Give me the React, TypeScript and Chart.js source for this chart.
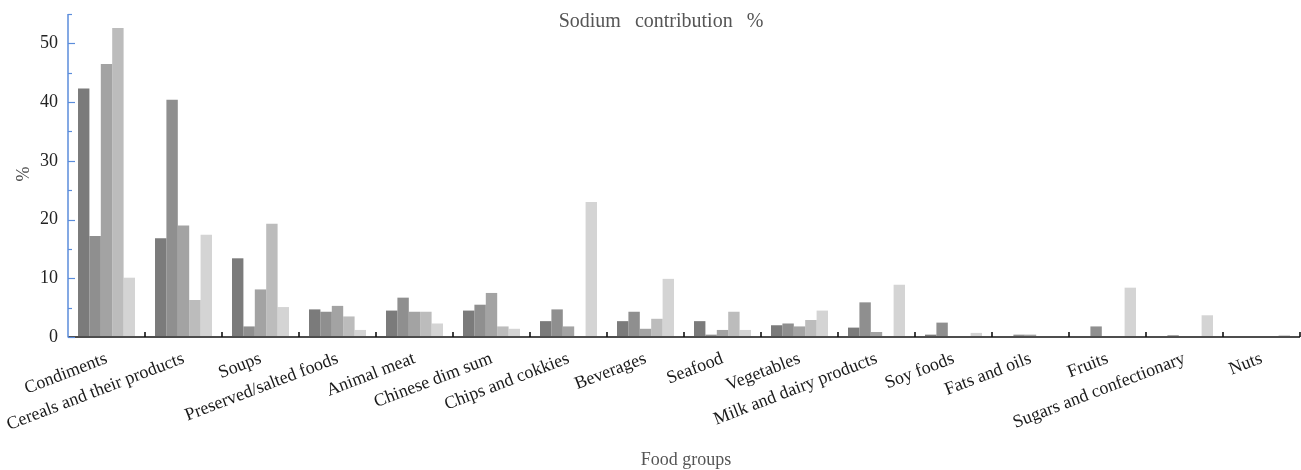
import { useEffect, useRef } from 'react';
import { Chart, registerables } from 'chart.js';

Chart.register(...registerables);

const categories = [
  'Condiments',
  'Cereals and their products',
  'Soups',
  'Preserved/salted foods',
  'Animal meat',
  'Chinese dim sum',
  'Chips and cokkies',
  'Beverages',
  'Seafood',
  'Vegetables',
  'Milk and dairy products',
  'Soy foods',
  'Fats and oils',
  'Fruits',
  'Sugars and confectionary',
  'Nuts',
];

const series1 = [42.3, 16.8, 13.4, 4.7, 4.5, 4.5, 2.7, 2.7, 2.7, 2.0, 1.6, 0.4, 0.15, 0, 0, 0];
const series2 = [17.2, 40.4, 1.8, 4.3, 6.7, 5.5, 4.7, 4.3, 0.4, 2.3, 5.9, 2.45, 0.4, 1.8, 0.3, 0];
const series3 = [46.5, 19.0, 8.1, 5.3, 4.3, 7.5, 1.8, 1.4, 1.2, 1.8, 0.85, 0.1, 0.4, 0, 0, 0];
const series4 = [52.6, 6.3, 19.3, 3.5, 4.3, 1.8, 0, 3.1, 4.3, 2.9, 0, 0, 0.1, 0, 0, 0];
const series5 = [10.1, 17.4, 5.1, 1.2, 2.3, 1.4, 23.0, 9.9, 1.2, 4.5, 8.9, 0.7, 0.1, 8.4, 3.7, 0.35];

const seriesNames = ['Series 1', 'Series 2', 'Series 3', 'Series 4', 'Series 5'];
const seriesColors = ['#7b7b7b', '#8f8f8f', '#a3a3a3', '#bcbcbc', '#d4d4d4'];

const yMin = 0;
const yMax = 55;
const yStep = 5;
const yLabelStep = 10;

const chartTitle = 'Sodium contribution %';
const xTitle = 'Food groups';
const yTitle = '%';

const SERIF = '"Liberation Serif", "Times New Roman", serif';

const decorPlugin = {
  id: 'decor',
  afterDatasetsDraw(chart: any) {
    const { ctx, chartArea: a, scales } = chart;
    const x = scales.x;
    const y = scales.y;
    ctx.save();

    // x axis line
    ctx.strokeStyle = '#4d4d4d';
    ctx.lineWidth = 2;
    ctx.beginPath();
    ctx.moveTo(a.left, a.bottom);
    ctx.lineTo(a.right, a.bottom);
    ctx.stroke();

    // x ticks (inward, at category boundaries)
    ctx.strokeStyle = '#111';
    ctx.lineWidth = 1.6;
    for (let i = 0; i < categories.length; i++) {
      const px = Math.round(x.getPixelForValue(i + 0.5));
      ctx.beginPath();
      ctx.moveTo(px, a.bottom);
      ctx.lineTo(px, a.bottom - 5);
      ctx.stroke();
    }

    // y axis line
    ctx.strokeStyle = '#5b8ddb';
    ctx.lineWidth = 1.5;
    const top = y.getPixelForValue(yMax);
    const bot = y.getPixelForValue(yMin);
    ctx.beginPath();
    ctx.moveTo(a.left, top);
    ctx.lineTo(a.left, bot + 0.5);
    ctx.stroke();
    ctx.lineWidth = 1.2;
    for (let v = yMin; v <= yMax; v += yStep) {
      const py = Math.round(y.getPixelForValue(v)) + 0.5;
      const len = v % yLabelStep === 0 ? 7 : 4;
      ctx.beginPath();
      ctx.moveTo(a.left, py);
      ctx.lineTo(a.left + len, py);
      ctx.stroke();
    }

    // titles
    ctx.fillStyle = '#555';
    ctx.textAlign = 'center';
    ctx.textBaseline = 'middle';
    ctx.font = '20px ' + SERIF;
    try { (ctx as any).wordSpacing = '9px'; } catch (e) {}
    ctx.fillText(chartTitle, 661, 22);
    try { (ctx as any).wordSpacing = '0px'; } catch (e) {}

    ctx.font = '18px ' + SERIF;
    ctx.fillText(xTitle, 686, 460);

    ctx.save();
    ctx.translate(24, 174);
    ctx.rotate(-Math.PI / 2);
    ctx.fillStyle = '#444';
    ctx.fillText(yTitle, 0, 0);
    ctx.restore();

    ctx.restore();
  },
};

export default function App() {
  const ref = useRef<HTMLCanvasElement>(null);

  useEffect(() => {
    document.body.style.margin = '0';
    const canvas = ref.current;
    if (!canvas) return;
    const allSeries = [series1, series2, series3, series4, series5];
    const chart = new Chart(canvas, {
      type: 'bar',
      data: {
        labels: categories,
        datasets: allSeries.map((s, i) => ({
          label: seriesNames[i],
          data: s,
          backgroundColor: seriesColors[i],
          borderWidth: 0,
          categoryPercentage: 0.74,
          barPercentage: 1.0,
        })),
      },
      options: {
        responsive: false,
        animation: false,
        devicePixelRatio: 1,
        layout: { padding: { left: 0, right: 1, top: 14, bottom: 0 } },
        plugins: {
          legend: { display: false },
          title: { display: false },
          tooltip: { enabled: false },
        },
        scales: {
          x: {
            type: 'category',
            offset: true,
            grid: { display: false, drawTicks: false },
            border: { display: false },
            ticks: {
              autoSkip: false,
              minRotation: 21,
              maxRotation: 21,
              padding: 11,
              color: '#1a1a1a',
              font: { family: SERIF, size: 18 },
            },
            afterFit: (scale: any) => {
              scale.height = 133;
              scale.paddingLeft = 0;
              scale.paddingRight = 0;
            },
          },
          y: {
            min: yMin,
            max: yMax,
            grid: { display: false, drawTicks: false },
            border: { display: false },
            ticks: {
              stepSize: yStep,
              padding: 10,
              color: '#222',
              font: { family: SERIF, size: 18 },
              callback: (v: any) => (Number(v) % yLabelStep === 0 ? String(v) : ''),
            },
            afterFit: (scale: any) => {
              scale.width = 68;
              scale.paddingTop = 0;
              scale.paddingBottom = 0;
            },
          },
        },
      },
      plugins: [decorPlugin],
    });
    return () => chart.destroy();
  }, []);

  return (
    <div style={{ position: 'fixed', left: 0, top: 0, width: 1301, height: 470, background: '#fff' }}>
      <canvas ref={ref} width={1301} height={470} style={{ width: 1301, height: 470, display: 'block' }} />
    </div>
  );
}
